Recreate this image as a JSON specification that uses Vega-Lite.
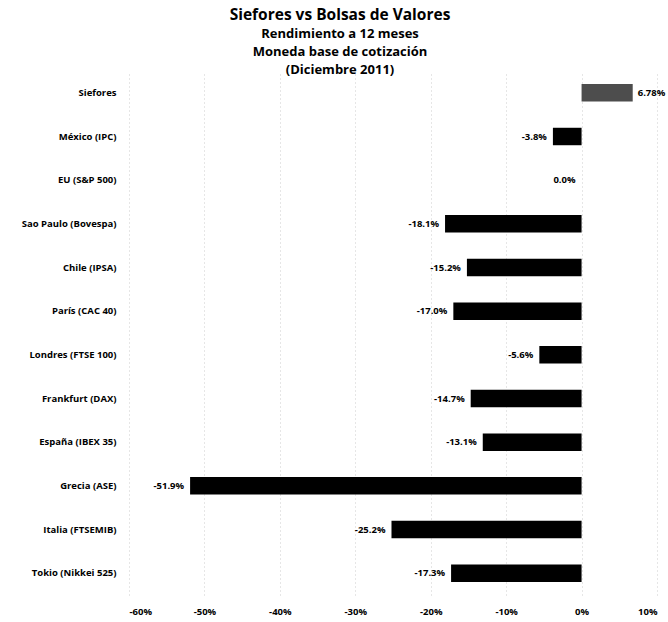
{
  "$schema": "https://vega.github.io/schema/vega-lite/v6.json",
  "width": 528,
  "height": 524,
  "autosize": "none",
  "padding": {"left": 129, "top": 71, "right": 11, "bottom": 27},
  "background": "white",
  "config": {"view": {"stroke": null}, "font": "Open Sans"},
  "title": {
    "text": "Siefores vs Bolsas de Valores",
    "subtitle": ["Rendimiento a 12 meses", "Moneda base de cotización", "(Diciembre 2011)"],
    "anchor": "middle",
    "dx": -53,
    "offset": -6,
    "font": "Open Sans",
    "fontSize": 15.5,
    "fontWeight": "bold",
    "color": "black",
    "subtitleFont": "Open Sans",
    "subtitleFontSize": 13,
    "subtitleFontWeight": "bold",
    "subtitleColor": "black",
    "subtitleLineHeight": 18,
    "subtitlePadding": 5
  },
  "data": {
    "values": [
      {"name": "Siefores", "value": 6.78, "label": "6.78%"},
      {"name": "México (IPC)", "value": -3.8, "label": "-3.8%"},
      {"name": "EU (S&P 500)", "value": 0.0, "label": "0.0%"},
      {"name": "Sao Paulo (Bovespa)", "value": -18.1, "label": "-18.1%"},
      {"name": "Chile (IPSA)", "value": -15.2, "label": "-15.2%"},
      {"name": "París (CAC 40)", "value": -17.0, "label": "-17.0%"},
      {"name": "Londres (FTSE 100)", "value": -5.6, "label": "-5.6%"},
      {"name": "Frankfurt (DAX)", "value": -14.7, "label": "-14.7%"},
      {"name": "España (IBEX 35)", "value": -13.1, "label": "-13.1%"},
      {"name": "Grecia (ASE)", "value": -51.9, "label": "-51.9%"},
      {"name": "Italia (FTSEMIB)", "value": -25.2, "label": "-25.2%"},
      {"name": "Tokio (Nikkei 525)", "value": -17.3, "label": "-17.3%"}
    ]
  },
  "encoding": {
    "y": {
      "field": "name",
      "type": "nominal",
      "sort": null,
      "scale": {"paddingInner": 0.6, "paddingOuter": 0.3},
      "axis": {
        "title": null,
        "ticks": false,
        "domain": false,
        "labelPadding": 13,
        "labelFont": "Open Sans",
        "labelFontSize": 9.5,
        "labelFontWeight": "bold",
        "labelColor": "black"
      }
    },
    "x": {
      "field": "value",
      "type": "quantitative",
      "scale": {"domain": [-60, 10], "nice": false, "zero": false},
      "axis": {
        "title": null,
        "values": [-60, -50, -40, -30, -20, -10, 0, 10],
        "labelExpr": "datum.value + '%'",
        "ticks": false,
        "domain": false,
        "labelPadding": 11,
        "labelFont": "Open Sans",
        "labelFontSize": 9.5,
        "labelFontWeight": "bold",
        "labelColor": "black",
        "grid": true,
        "gridColor": "#cccccc",
        "gridDash": [1, 3],
        "gridWidth": 1
      }
    }
  },
  "layer": [
    {
      "mark": {"type": "bar"},
      "encoding": {
        "color": {
          "condition": {"test": "datum.name === 'Siefores'", "value": "#4d4d4d"},
          "value": "black"
        }
      }
    },
    {
      "transform": [{"filter": "datum.value <= 0"}],
      "mark": {"type": "text", "align": "right", "dx": -6, "font": "Open Sans", "fontSize": 9.5, "fontWeight": "bold", "color": "black"},
      "encoding": {"text": {"field": "label"}}
    },
    {
      "transform": [{"filter": "datum.value > 0"}],
      "mark": {"type": "text", "align": "left", "dx": 5, "font": "Open Sans", "fontSize": 9.5, "fontWeight": "bold", "color": "black"},
      "encoding": {"text": {"field": "label"}}
    }
  ]
}
